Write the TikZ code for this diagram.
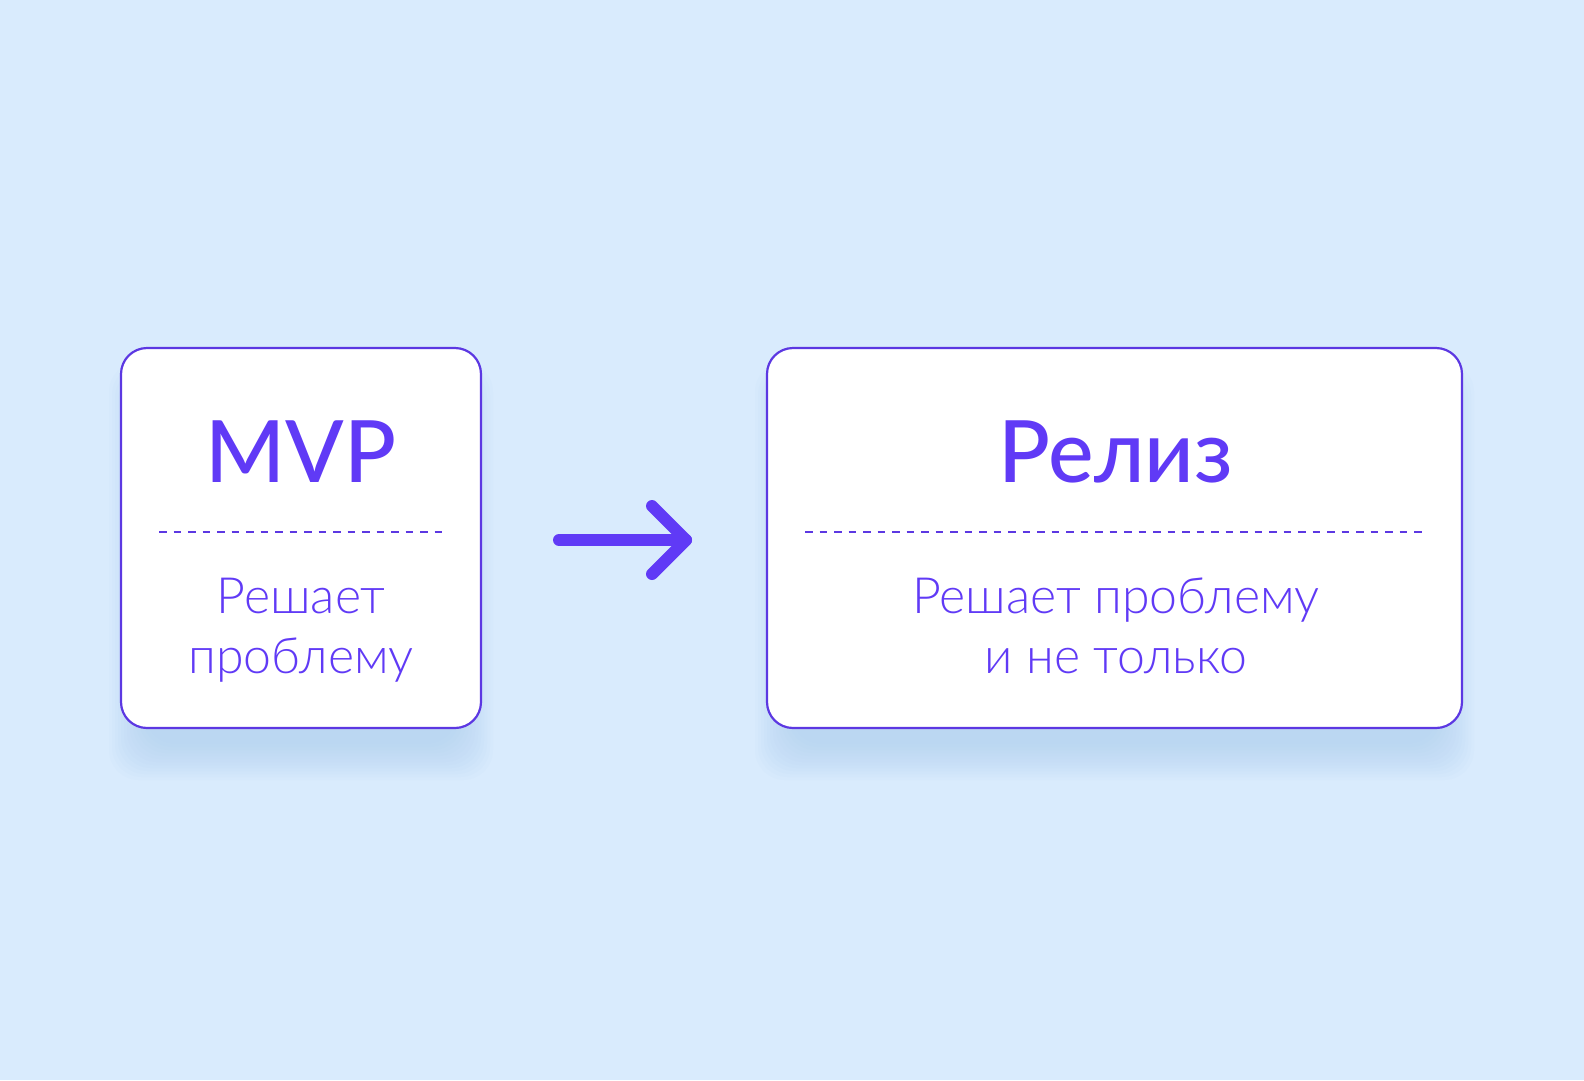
\documentclass[tikz,border=0pt]{standalone}
\usepackage{fontspec}
\setmainfont{Lato}
\newfontfamily\titlefont{Lato Medium}
\newfontfamily\subfont{Lato Light}
\definecolor{bg}{RGB}{217,235,253}
\definecolor{shadowc}{RGB}{175,208,242}
\definecolor{purp}{RGB}{96,58,246}
\definecolor{edge}{RGB}{92,56,226}
\tikzset{
  card/.style={draw=edge, line width=2.2pt, fill=white, rounded corners=26pt},
  divider/.style={draw=edge, line width=1.9pt, dash pattern=on 7.5pt off 7pt},
  titletext/.style={text=purp, font=\titlefont\fontsize{86}{96}\selectfont, inner sep=0pt, anchor=base},
  subtext/.style={text=purp, font=\subfont\fontsize{50}{60}\selectfont, inner sep=0pt, anchor=base},
  arrowline/.style={draw=purp, line width=12pt, line cap=round, line join=round},
}
\begin{document}
\begin{tikzpicture}[x=1pt,y=-1pt]
\fill[bg] (0,0) rectangle (1584,1080);
\useasboundingbox (0,0) rectangle (1584,1080);
% shadows
\foreach \r in {0,3,...,36}{
  \fill[shadowc, opacity=0.07, rounded corners=30pt] (121+24-\r,348+50-\r) rectangle (481-24+\r,728+16+\r);
  \fill[shadowc, opacity=0.07, rounded corners=30pt] (767+24-\r,348+50-\r) rectangle (1462-24+\r,728+16+\r);
}
% cards
\draw[card] (121,348) rectangle (481,728);
\draw[card] (767,348) rectangle (1462,728);
% left content
\node[titletext] (t1) at (301,482) {MVP};
\coordinate (d1a) at (159,532);
\coordinate (d1b) at (443,532);
\draw[divider] (d1a) -- (d1b);
\node[subtext] (s1a) at (301,613) {Решает};
\node[subtext] (s1b) at (301,673) {проблему};
% right content
\node[titletext] (t2) at (1116,482) {Релиз};
\coordinate (d2a) at (805,532);
\coordinate (d2b) at (1426,532);
\draw[divider] (d2a) -- (d2b);
\node[subtext] (s2a) at (1116,613) {Решает проблему};
\node[subtext] (s2b) at (1116,673) {и не только};
% arrow
\coordinate (a0) at (559,540);
\coordinate (a1) at (686,540);
\coordinate (h1) at (652,506);
\coordinate (h2) at (652,574);
\draw[arrowline] (a0) -- (a1);
\draw[arrowline] (h1) -- (a1) -- (h2);
\end{tikzpicture}
\end{document}
